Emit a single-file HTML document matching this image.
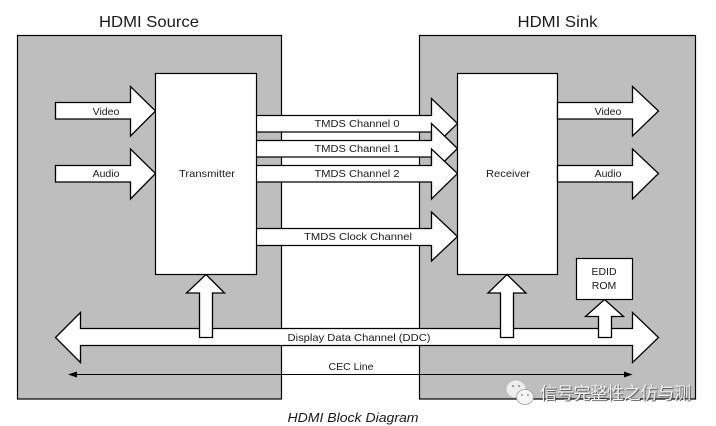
<!DOCTYPE html>
<html><head><meta charset="utf-8"><style>
html,body{margin:0;padding:0;background:#fff}
svg{display:block}
text{font-family:"Liberation Sans",Arial,sans-serif;fill:#1a1a1a}
.l{font-size:10.5px;text-anchor:middle}
.a{fill:#fff;stroke:#000;stroke-width:1.3;stroke-linejoin:miter}
</style></head><body>
<svg width="716" height="426" viewBox="0 0 716 426" xmlns="http://www.w3.org/2000/svg">
<rect width="716" height="426" fill="#fff"/>
<rect x="17.5" y="35.5" width="264" height="363.5" fill="#bebebe" stroke="#000" stroke-width="1.2"/>
<rect x="419.5" y="35.5" width="276" height="363.5" fill="#bebebe" stroke="#000" stroke-width="1.2"/>
<text x="149" y="27" font-size="16" text-anchor="middle" textLength="100" lengthAdjust="spacingAndGlyphs">HDMI Source</text>
<text x="557.5" y="27" font-size="16" text-anchor="middle" textLength="80" lengthAdjust="spacingAndGlyphs">HDMI Sink</text>

<polygon class="a" points="55.5,102.5 130.5,102.5 130.5,86.5 155.5,111 130.5,136 130.5,119 55.5,119"/>
<polygon class="a" points="55.5,165.5 130.5,165.5 130.5,149 155.5,173.5 130.5,199 130.5,182 55.5,182"/>

<polygon class="a" points="256,115.5 431.5,115.5 431.5,98.5 457.5,123.5 431.5,149 431.5,132 256,132"/>
<polygon class="a" points="256,140.5 431.5,140.5 431.5,123.5 457.5,148.5 431.5,174 431.5,157 256,157"/>
<polygon class="a" points="256,165.5 431.5,165.5 431.5,149 457.5,173.5 431.5,199 431.5,182 256,182"/>
<polygon class="a" points="256,228.5 431.5,228.5 431.5,212 457.5,236.5 431.5,261 431.5,245.5 256,245.5"/>

<rect x="155.5" y="73.5" width="101" height="201" fill="#fff" stroke="#000" stroke-width="1.2"/>
<rect x="457.5" y="73.5" width="100" height="201" fill="#fff" stroke="#000" stroke-width="1.2"/>

<polygon class="a" points="557.5,102.5 632.5,102.5 632.5,86.5 658.5,111 632.5,136 632.5,119 557.5,119"/>
<polygon class="a" points="557.5,165.5 632.5,165.5 632.5,149 658.5,173.5 632.5,199 632.5,182 557.5,182"/>

<polygon class="a" points="55.5,337.5 80.5,312.5 80.5,328.5 632.5,328.5 632.5,312.5 658.5,337.5 632.5,362.5 632.5,345.5 80.5,345.5 80.5,362.5"/>

<polygon class="a" points="206,274.5 224.5,293 212.5,293 212.5,337.5 199.5,337.5 199.5,293 186.5,293"/>
<polygon class="a" points="507,274.5 526,293 513.5,293 513.5,337.5 500.5,337.5 500.5,293 488,293"/>
<polygon class="a" points="604.5,299.5 623.5,316.5 611.5,316.5 611.5,337.5 598.5,337.5 598.5,316.5 585.5,316.5"/>
<rect x="576.5" y="258.5" width="56" height="41" fill="#fff" stroke="#000" stroke-width="1.2"/>

<line x1="72" y1="374.5" x2="630" y2="374.5" stroke="#000" stroke-width="1"/>
<polygon points="68,374.5 77,371.5 77,377.5" fill="#000"/>
<polygon points="632.5,374.5 624,371.5 624,377.5" fill="#000"/>

<text class="l" x="106" y="115">Video</text>
<text class="l" x="106" y="177">Audio</text>
<text class="l" x="207" y="177" textLength="56" lengthAdjust="spacingAndGlyphs">Transmitter</text>
<text class="l" x="357" y="127" textLength="85" lengthAdjust="spacingAndGlyphs">TMDS Channel 0</text>
<text class="l" x="357" y="152" textLength="85" lengthAdjust="spacingAndGlyphs">TMDS Channel 1</text>
<text class="l" x="357" y="177" textLength="85" lengthAdjust="spacingAndGlyphs">TMDS Channel 2</text>
<text class="l" x="358" y="240" textLength="108" lengthAdjust="spacingAndGlyphs">TMDS Clock Channel</text>
<text class="l" x="508" y="177" textLength="44" lengthAdjust="spacingAndGlyphs">Receiver</text>
<text class="l" x="608" y="115">Video</text>
<text class="l" x="608" y="177">Audio</text>
<text class="l" x="604" y="275">EDID</text>
<text class="l" x="604" y="289">ROM</text>
<text class="l" x="359" y="341" textLength="143" lengthAdjust="spacingAndGlyphs">Display Data Channel (DDC)</text>
<text class="l" x="351" y="370">CEC Line</text>
<text x="353" y="422" font-size="12.5" font-style="italic" text-anchor="middle" textLength="131" lengthAdjust="spacingAndGlyphs">HDMI Block Diagram</text>

<ellipse cx="516" cy="389" rx="9.5" ry="8.5" fill="#eee"/>
<ellipse cx="525" cy="397" rx="8.5" ry="7.5" fill="#f4f4f4" stroke="#999" stroke-width="0.7"/>
<circle cx="513" cy="386" r="1.1" fill="#999"/><circle cx="519" cy="386" r="1.1" fill="#999"/>
<circle cx="522" cy="395" r="1" fill="#999"/><circle cx="528" cy="395" r="1" fill="#999"/>
<text x="541" y="400" font-size="17" textLength="151" style='font-family:"Liberation Sans","Noto Sans CJK SC",sans-serif;fill:#444' opacity="0.75">信号完整性之仿与测</text>
<text x="540" y="399" font-size="17" textLength="151" style='font-family:"Liberation Sans","Noto Sans CJK SC",sans-serif;fill:#f2f2f2'>信号完整性之仿与测</text>
</svg>
</body></html>
